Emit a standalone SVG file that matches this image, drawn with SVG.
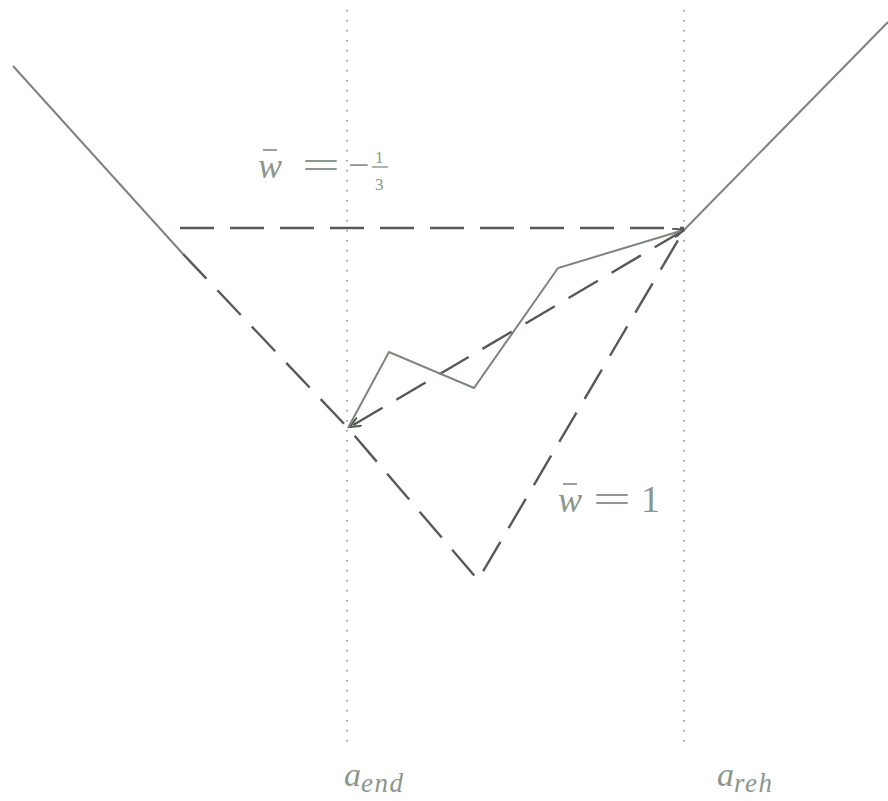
<svg xmlns="http://www.w3.org/2000/svg" width="888" height="801" viewBox="0 0 888 801">
<defs>
<style>
.solid{fill:none;stroke:#7c847c;stroke-width:2;stroke-linejoin:miter}
.dash{fill:none;stroke:#555a55;stroke-width:2.4;stroke-dasharray:34,16}
.dot{fill:none;stroke:#8a8a8a;stroke-width:1.6;stroke-dasharray:1.6,8.4}
.lbl{font-family:"Liberation Serif","DejaVu Serif",serif;fill:#8a978a;font-style:italic}
.up{font-family:"Liberation Serif","DejaVu Serif",serif;fill:#8a978a}
</style>
<marker id="ah" viewBox="0 0 12 10" refX="11" refY="5" markerWidth="12" markerHeight="10" markerUnits="userSpaceOnUse" orient="auto">
<path d="M0,0 L11,5 L0,10" fill="none" stroke="#555a55" stroke-width="2"/>
</marker>
</defs>
<g id="guides">
<line class="dot" x1="347" y1="10" x2="347" y2="745"/>
<line class="dot" x1="684" y1="10" x2="684" y2="745"/>
</g>
<g id="connectors">
<line class="solid" x1="13" y1="66" x2="183" y2="254"/>
<line class="solid" x1="684" y1="230" x2="888" y2="22"/>
<line class="dash" x1="180" y1="228" x2="684" y2="228"/>
<polyline class="dash" points="183,254 348,428 478,580 684,230"/>
<line class="dash" x1="684" y1="230" x2="350" y2="427" marker-end="url(#ah)"/>
<polyline class="solid" points="348,428 389,352 474,388 558,268 684,230" marker-end="url(#ah)"/>
</g>
<g id="labels">
<text class="lbl" x="258" y="178" font-size="36">w</text>
<line x1="263" y1="150" x2="277" y2="150" stroke="#8a978a" stroke-width="1.8"/>
<text class="up" x="302" y="178" font-size="38" textLength="38" lengthAdjust="spacingAndGlyphs">=</text>
<text class="up" x="348" y="178" font-size="38">−</text>
<text class="up" x="375" y="163" font-size="17">1</text>
<line x1="372" y1="167" x2="388" y2="167" stroke="#8a978a" stroke-width="1.4"/>
<text class="up" x="375" y="190" font-size="17">3</text>
<text class="lbl" x="558" y="512" font-size="36">w</text>
<line x1="563" y1="484" x2="577" y2="484" stroke="#8a978a" stroke-width="1.8"/>
<text class="up" x="593" y="512" font-size="38" textLength="38" lengthAdjust="spacingAndGlyphs">=</text>
<text class="up" x="641" y="512" font-size="38">1</text>
<text class="lbl" x="344" y="786" font-size="34">a<tspan font-size="27" dy="6" letter-spacing="1.5">end</tspan></text>
<text class="lbl" x="717" y="786" font-size="34">a<tspan font-size="27" dy="6" letter-spacing="1.5">reh</tspan></text>
</g>
</svg>
